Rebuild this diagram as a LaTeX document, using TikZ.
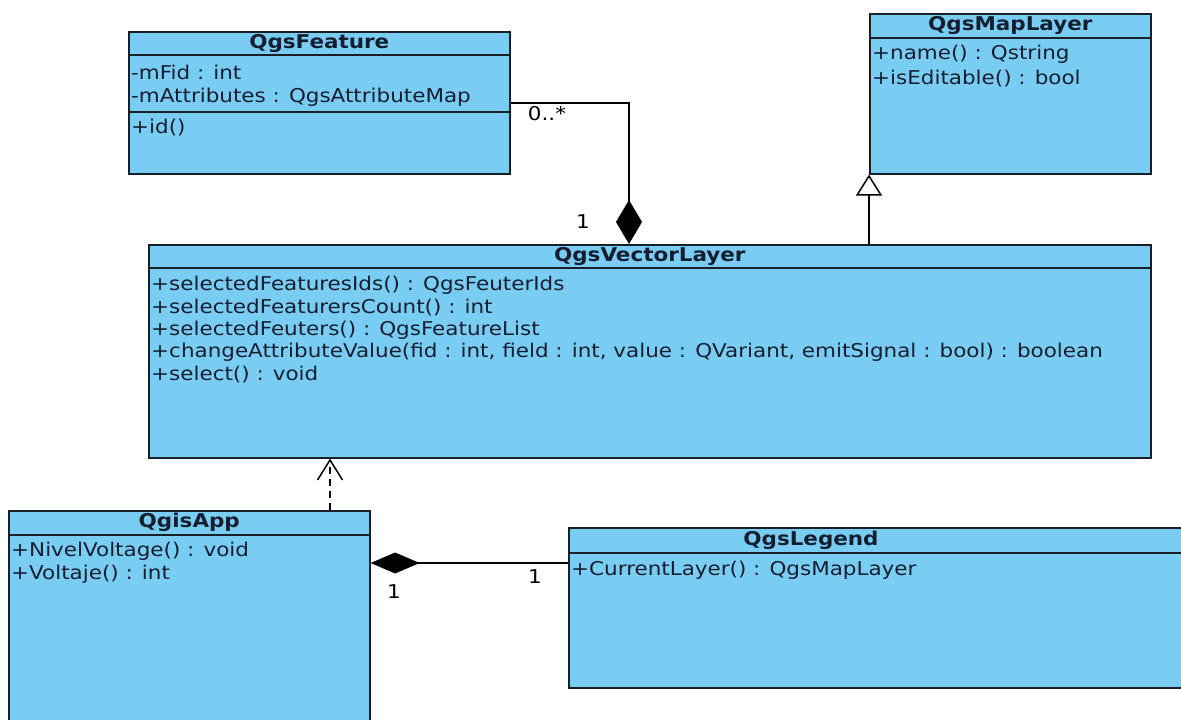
\documentclass[tikz,border=0pt]{standalone}
\usepackage{fontspec}
\setmainfont{DejaVu Sans}[FakeStretch=1.13]
\usetikzlibrary{arrows.meta,calc}
\definecolor{classfill}{RGB}{122,205,242}
\definecolor{ink}{RGB}{18,30,48}
\definecolor{edge}{RGB}{25,30,40}
\begin{document}
\begin{tikzpicture}[x=1pt,y=-1pt,
  cls/.style={draw=edge, fill=classfill, line width=1.6pt, rectangle, inner sep=0pt, anchor=north west},
  title/.style={font=\bfseries\fontsize{19}{23}\selectfont, text=ink, inner sep=0pt},
  member/.style={font=\fontsize{19}{23}\selectfont, text=ink, anchor=west, inner sep=0pt},
  sep/.style={draw=edge, line width=1.4pt},
  conn/.style={draw=black, line width=1.5pt},
  mult/.style={font=\fontsize{19}{23}\selectfont, text=black, inner sep=0pt},
]
\useasboundingbox (0,0) rectangle (1181,720);
\clip (0,0) rectangle (1181,720);

% QgsFeature
\node[cls, minimum width=381pt, minimum height=142pt] (F) at (128,31) {};
\draw[sep] ($(F.north west)+(0,24)$) -- ($(F.north east)+(0,24)$);
\draw[sep] ($(F.north west)+(0,81)$) -- ($(F.north east)+(0,81)$);
\node[title] (Ft) at ($(F.north)+(0,12.5)$) {QgsFeature};
\node[member] (F1) at ($(F.north west)+(3,41)$) {-mFid : int};
\node[member] (F2) at ($(F.north west)+(3,66)$) {-mAttributes : QgsAttributeMap};
\node[member] (F3) at ($(F.north west)+(3,97)$) {+id()};

% QgsMapLayer
\node[cls, minimum width=281pt, minimum height=160pt] (M) at (869,13) {};
\draw[sep] ($(M.north west)+(0,25)$) -- ($(M.north east)+(0,25)$);
\node[title] (Mt) at ($(M.north)+(0,12.5)$) {QgsMapLayer};
\node[member] (M1) at ($(M.north west)+(3,41)$) {+name() : Qstring};
\node[member] (M2) at ($(M.north west)+(3,66)$) {+isEditable() : bool};

% QgsVectorLayer
\node[cls, minimum width=1002pt, minimum height=213pt] (V) at (148,244) {};
\draw[sep] ($(V.north west)+(0,24)$) -- ($(V.north east)+(0,24)$);
\node[title] (Vt) at ($(V.north)+(0,12)$) {QgsVectorLayer};
\node[member] (V1) at ($(V.north west)+(3,41)$) {+selectedFeaturesIds() : QgsFeuterIds};
\node[member] (V2) at ($(V.north west)+(3,63.5)$) {+selectedFeaturersCount() : int};
\node[member] (V3) at ($(V.north west)+(3,86)$) {+selectedFeuters() : QgsFeatureList};
\node[member] (V4) at ($(V.north west)+(3,108.5)$) {+changeAttributeValue(fid : int, field : int, value : QVariant, emitSignal : bool) : boolean};
\node[member] (V5) at ($(V.north west)+(3,131)$) {+select() : void};

% QgisApp
\node[cls, minimum width=361pt, minimum height=240pt] (A) at (8,510) {};
\draw[sep] ($(A.north west)+(0,25)$) -- ($(A.north east)+(0,25)$);
\node[title] (At) at ($(A.north)+(0,12.5)$) {QgisApp};
\node[member] (A1) at ($(A.north west)+(3,41)$) {+NivelVoltage() : void};
\node[member] (A2) at ($(A.north west)+(3,64)$) {+Voltaje() : int};

% QgsLegend
\node[cls, minimum width=630pt, minimum height=160pt] (L) at (568,527) {};
\draw[sep] ($(L.north west)+(0,26)$) -- ($(L.north east)+(0,26)$);
\node[title] (Lt) at ($(L.north west)+(243,13)$) {QgsLegend};
\node[member] (L1) at ($(L.north west)+(3,43)$) {+CurrentLayer() : QgsMapLayer};

% QgsFeature composed into QgsVectorLayer
\coordinate (fvTop) at ($(V.north west)+(481,0)$);
\draw[conn, -{Diamond[length=44pt,width=26pt]}] (F.east) -| (fvTop);
\node[mult] (fvMany) at (547,114) {0..*};
\node[mult] (fvOne) at (583,222) {1};

% QgsVectorLayer generalizes QgsMapLayer
\draw[conn, -{Triangle[open,length=21pt,width=26pt,fill=white]}] (V.north -| M.south west) -- (M.south west);

% QgisApp depends on QgsVectorLayer
\coordinate (avTop) at ($(A.north west)+(322,0)$);
\draw[conn, dash pattern=on 7pt off 5pt, -{Straight Barb[length=20pt,width=25pt]}] (avTop) -- (avTop |- V.south);

% QgsLegend composed into QgisApp
\coordinate (laEnd) at ($(L.north west)+(0,36)$);
\draw[conn, -{Diamond[length=49pt,width=21pt]}] (laEnd) -- (laEnd -| A.east);
\node[mult] (laOneA) at (394,592) {1};
\node[mult] (laOneL) at (535,577) {1};
\end{tikzpicture}
\end{document}
